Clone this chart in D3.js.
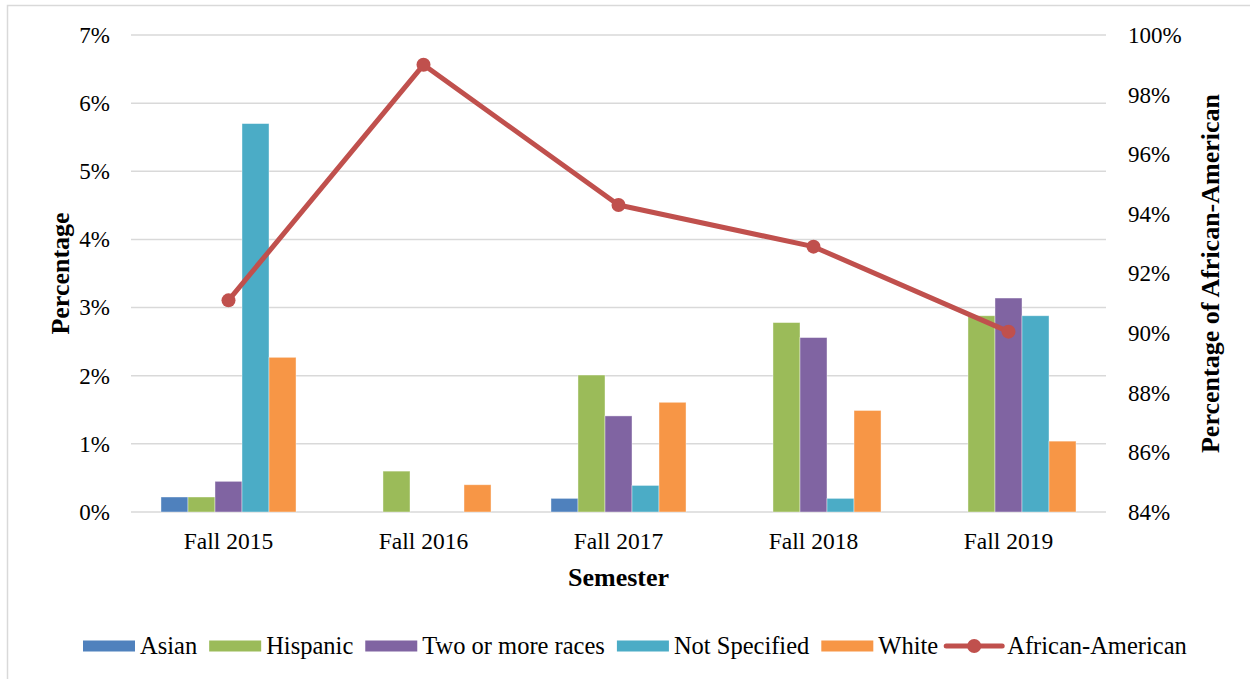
<!DOCTYPE html>
<html>
<head>
<meta charset="utf-8">
<script src="https://cdn.jsdelivr.net/npm/d3@7"></script>
<style>
  body { margin: 0; background: #fff; }
  text { font-family: "Liberation Serif", "Times New Roman", serif; fill: #000; }
</style>
</head>
<body>
<script>
// data
const semesters = ["Fall 2015", "Fall 2016", "Fall 2017", "Fall 2018", "Fall 2019"];
const barSeries = ["Asian", "Hispanic", "Two or more races", "Not Specified", "White"];
const asian       = [0.22, 0, 0.20, 0, 0];
const hispanic    = [0.22, 0.60, 2.01, 2.78, 2.88];
const twoOrMore   = [0.45, 0, 1.41, 2.56, 3.14];
const notSpecified = [5.70, 0, 0.39, 0.20, 2.88];
const white       = [2.27, 0.40, 1.61, 1.49, 1.04];
const africanAmerican = [91.1, 99.0, 94.3, 92.9, 90.05];
const leftTicks = [0, 1, 2, 3, 4, 5, 6, 7];
const rightTicks = [84, 86, 88, 90, 92, 94, 96, 98, 100];

const barValues = [asian, hispanic, twoOrMore, notSpecified, white];
const colors = ["#4F81BD", "#9BBB59", "#8064A2", "#4BACC6", "#F79646"];
const lineColor = "#C0504D";

const W = 1250, H = 679;
const svg = d3.select("body").append("svg")
  .attr("width", W).attr("height", H);

// outer chart border
svg.append("rect")
  .attr("x", 7.5).attr("y", 5.5)
  .attr("width", W + 20).attr("height", H + 20)
  .attr("fill", "none").attr("stroke", "#d9d9d9").attr("stroke-width", 1.5);

const plotLeft = 131, plotRight = 1106, plotTop = 35, plotBottom = 512;

const x0 = d3.scaleBand().domain(semesters).range([plotLeft, plotRight]);
const x1 = d3.scaleBand().domain(barSeries).range([0, x0.bandwidth()]).paddingOuter(1.11);
const yL = d3.scaleLinear().domain([0, 7]).range([plotBottom, plotTop]);
const yR = d3.scaleLinear().domain([84, 100]).range([plotBottom, plotTop]);

// gridlines
svg.append("g").selectAll("line").data(leftTicks).join("line")
  .attr("x1", plotLeft).attr("x2", plotRight)
  .attr("y1", d => yL(d)).attr("y2", d => yL(d))
  .attr("stroke", "#d9d9d9").attr("stroke-width", 1.5);

// left axis labels
const yAxisL = d3.axisLeft(yL).tickValues(leftTicks).tickFormat(d => d + "%").tickSize(0).tickPadding(21);
const gL = svg.append("g").attr("transform", `translate(${plotLeft},0)`).call(yAxisL);
gL.select(".domain").remove();
gL.attr("font-family", "Liberation Serif");
gL.selectAll("text").style("font-size", "23px").style("font-family", "Liberation Serif");

// right axis labels
const yAxisR = d3.axisRight(yR).tickValues(rightTicks).tickFormat(d => d + "%").tickSize(0).tickPadding(22);
const gR = svg.append("g").attr("transform", `translate(${plotRight},0)`).call(yAxisR);
gR.select(".domain").remove();
gR.attr("font-family", "Liberation Serif");
gR.selectAll("text").style("font-size", "23px").style("font-family", "Liberation Serif");

// x axis labels
const xAxis = d3.axisBottom(x0).tickSize(0).tickPadding(20);
const gX = svg.append("g").attr("transform", `translate(0,${plotBottom})`).call(xAxis);
gX.select(".domain").remove();
gX.attr("font-family", "Liberation Serif");
gX.selectAll("text").style("font-size", "23.5px").style("font-family", "Liberation Serif");

// bars
const groups = svg.append("g").selectAll("g").data(semesters).join("g")
  .attr("transform", d => `translate(${x0(d)},0)`);
groups.selectAll("rect")
  .data((d, i) => barSeries.map((s, j) => ({ s, v: barValues[j][i], c: colors[j] })).filter(d => d.v > 0))
  .join("rect")
  .attr("x", d => x1(d.s))
  .attr("width", x1.bandwidth())
  .attr("y", d => yL(d.v))
  .attr("height", d => yL(0) - yL(d.v))
  .attr("fill", d => d.c)
  .attr("stroke", "#ffffff").attr("stroke-opacity", 0.5).attr("stroke-width", 0.8);

// African-American line
const cx = d => x0(d) + x0.bandwidth() / 2;
const line = d3.line().x((d, i) => cx(semesters[i])).y(d => yR(d));
svg.append("path").datum(africanAmerican)
  .attr("d", line)
  .attr("fill", "none").attr("stroke", lineColor)
  .attr("stroke-width", 5).attr("stroke-linejoin", "round").attr("stroke-linecap", "round");
svg.append("g").selectAll("circle").data(africanAmerican).join("circle")
  .attr("cx", (d, i) => cx(semesters[i]))
  .attr("cy", d => yR(d))
  .attr("r", 7).attr("fill", lineColor);

// axis titles
svg.append("text")
  .attr("transform", `translate(60,${(plotTop + plotBottom) / 2}) rotate(-90)`)
  .attr("text-anchor", "middle").attr("dominant-baseline", "central")
  .style("font-size", "26px").style("font-weight", "bold")
  .text("Percentage");
svg.append("text")
  .attr("transform", `translate(1210,${(plotTop + plotBottom) / 2}) rotate(-90)`)
  .attr("text-anchor", "middle").attr("dominant-baseline", "central")
  .style("font-size", "26px").style("font-weight", "bold")
  .text("Percentage of African-American");
svg.append("text")
  .attr("x", (plotLeft + plotRight) / 2).attr("y", 586)
  .attr("text-anchor", "middle")
  .style("font-size", "26px").style("font-weight", "bold")
  .text("Semester");

// legend
const legendItems = barSeries.map((s, i) => ({ name: s, color: colors[i], type: "bar" }))
  .concat([{ name: "African-American", color: lineColor, type: "line" }]);
const legend = svg.append("g");
let lx = 83;
const ly = 646;
legendItems.forEach(item => {
  const g = legend.append("g");
  if (item.type === "bar") {
    g.append("rect").attr("x", lx).attr("y", ly - 5.5).attr("width", 52).attr("height", 11).attr("fill", item.color);
  } else {
    g.append("line").attr("x1", lx - 4).attr("x2", lx + 52).attr("y1", ly).attr("y2", ly)
      .attr("stroke", item.color).attr("stroke-width", 5).attr("stroke-linecap", "round");
    g.append("circle").attr("cx", lx + 24).attr("cy", ly).attr("r", 7).attr("fill", item.color);
  }
  const t = g.append("text").attr("x", lx + 57).attr("y", ly + 8)
    .style("font-size", "24.5px").style("font-family", "Liberation Serif").text(item.name);
  lx += 57 + t.node().getComputedTextLength() + 12;
});
</script>
</body>
</html>
